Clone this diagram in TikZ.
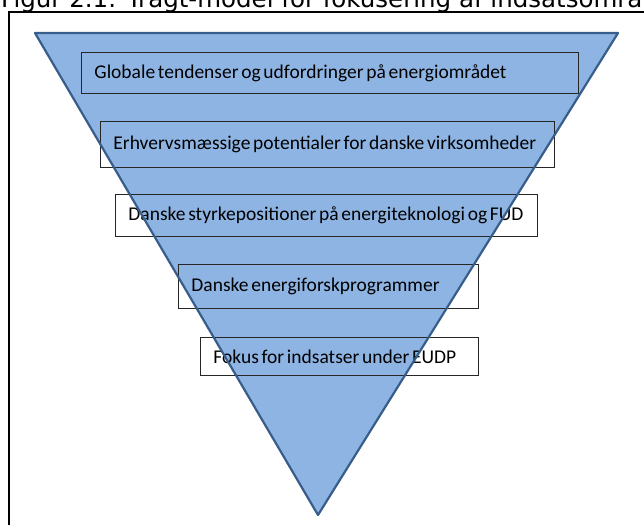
\documentclass[tikz,border=0pt]{standalone}
\usepackage{fontspec}
\setmainfont{Carlito}
\newfontfamily\captionfont{DejaVu Sans}
\definecolor{funnelfill}{RGB}{142,180,227}
\definecolor{funnelline}{RGB}{56,93,138}

\begin{document}
\begin{tikzpicture}[
  x=1pt, y=-1pt,
  level/.style={draw=black!85, line width=0.9pt, anchor=north west, align=left,
    inner xsep=13pt, inner ysep=0pt, font=\fontsize{19.5}{22}\selectfont,
    execute at begin node={\spaceskip=0.14em\relax}},
  funnel/.style={line width=2.2pt, draw=funnelline, line join=round}
]
\useasboundingbox (0,0) rectangle (644,524);

% Overskrift (beskåret i toppen)
\node[anchor=base west, inner sep=0pt, font=\captionfont\fontsize{24.5}{28}\selectfont] (caption) at (1,7.5) {Figur 2.1: Tragt-model for fokusering af indsatsområ};

% Ramme
\draw[line width=2pt] (9,530) -- (9,12) -- (650,12);

% Tragt
\coordinate (tl) at (35,33);
\coordinate (tr) at (618,33);
\coordinate (tip) at (318,515);
\fill[funnelfill] (tl) -- (tr) -- (tip) -- cycle;

% Niveauer i tragten
\node[level, minimum width=497pt, minimum height=41pt, text width=471pt] (trends) at (81,52) {\mbox{Globale tendenser og udfordringer på energiområdet}};
\node[level, minimum width=454pt, minimum height=46pt, text width=428pt] (potential) at (100,121) {\mbox{Erhvervsmæssige potentialer for danske virksomheder}};
\node[level, minimum width=422pt, minimum height=42pt, text width=396pt] (strength) at (115,194) {\mbox{Danske styrkepositioner på energiteknologi og FUD}};
\node[level, minimum width=300pt, minimum height=44pt, text width=274pt] (programs) at (178,264) {\mbox{Danske energiforskprogrammer}};
\node[level, minimum width=278pt, minimum height=38pt, text width=252pt] (focus) at (200,337) {\mbox{Fokus for indsatser under EUDP}};

\draw[funnel] (tl) -- (tr) -- (tip) -- cycle;

\end{tikzpicture}
\end{document}
